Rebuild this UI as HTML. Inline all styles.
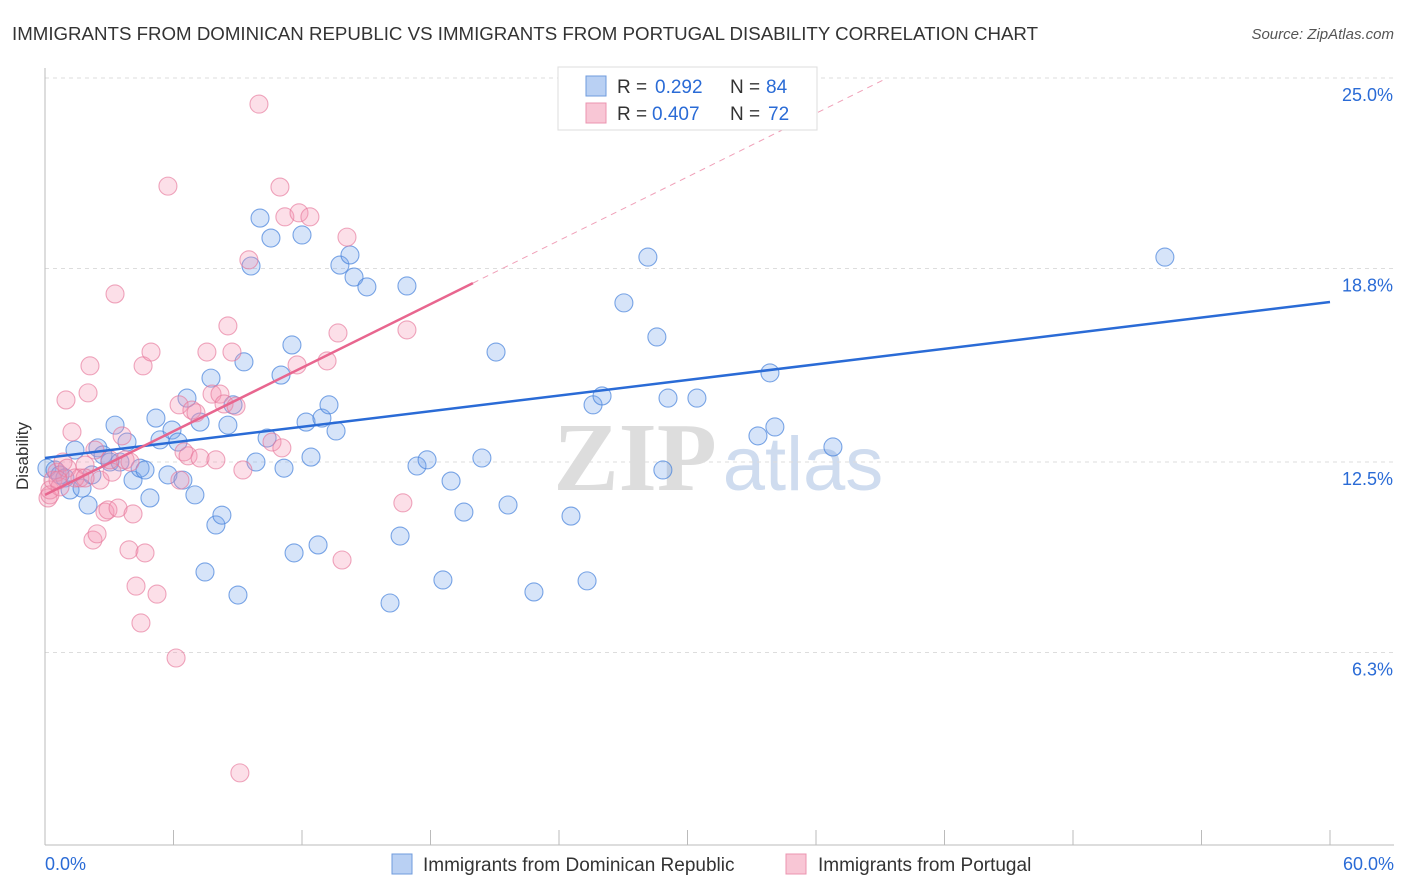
<!DOCTYPE html>
<html><head><meta charset="utf-8"><style>
body{margin:0;background:#fff;font-family:"Liberation Sans",sans-serif}
#c{position:absolute;left:0;top:0}
</style></head><body>
<svg id="c" width="1406" height="892" xmlns="http://www.w3.org/2000/svg">
<text x="12" y="40" font-size="18" textLength="1026" lengthAdjust="spacingAndGlyphs" fill="#333">IMMIGRANTS FROM DOMINICAN REPUBLIC VS IMMIGRANTS FROM PORTUGAL DISABILITY CORRELATION CHART</text>
<text x="1394" y="39" font-size="15" fill="#555" text-anchor="end" font-style="italic">Source: ZipAtlas.com</text>
<g>
<text x="635" y="490" font-size="98" fill="#ddd" text-anchor="middle" font-family="Liberation Serif" font-weight="bold">ZIP</text>
<text x="803" y="490" font-size="76" fill="#cfdcef" text-anchor="middle">atlas</text>
</g>
<g id="grid"></g><g id="axes"></g><g id="pts"></g><g id="trend"></g>
<text x="28" y="456" font-size="17" fill="#333" text-anchor="middle" transform="rotate(-90 28 456)">Disability</text>
<g>
<rect x="558" y="67" width="259" height="63" fill="#fff" stroke="#ddd"/>
<rect x="586" y="76" width="20" height="20" fill="#b9d0f3" stroke="#6f9bdc"/>
<text x="617" y="93" font-size="19" fill="#333">R =</text>
<text x="655" y="93" font-size="19" fill="#2a6bd6">0.292</text>
<text x="730" y="93" font-size="19" fill="#333">N =</text>
<text x="766" y="93" font-size="19" fill="#2a6bd6">84</text>
<rect x="586" y="103" width="20" height="20" fill="#f8c6d5" stroke="#eb94b0"/>
<text x="617" y="120" font-size="19" fill="#333">R =</text>
<text x="652" y="120" font-size="19" fill="#2a6bd6">0.407</text>
<text x="730" y="120" font-size="19" fill="#333">N =</text>
<text x="768" y="120" font-size="19" fill="#2a6bd6">72</text>
</g>
<g>
<rect x="392" y="854" width="20" height="20" fill="#b9d0f3" stroke="#6f9bdc"/>
<text x="423" y="871" font-size="19" fill="#333">Immigrants from Dominican Republic</text>
<rect x="786" y="854" width="20" height="20" fill="#f8c6d5" stroke="#eb94b0"/>
<text x="818" y="871" font-size="19" fill="#333">Immigrants from Portugal</text>
</g>
</svg>
<script>
const yTicks=[25.0,18.8,12.5,6.3];
const yTickLabels=["25.0%","18.8%","12.5%","6.3%"];
const xTickLabels=["0.0%","60.0%"];
const blueX=[0.09,0.47,0.70,0.93,1.17,1.40,1.73,2.01,2.19,2.47,2.71,3.03,3.27,3.50,3.83,4.11,4.44,4.67,4.90,5.18,5.37,5.74,5.93,6.21,6.44,6.63,7.00,7.24,7.47,7.75,7.98,8.26,8.54,8.78,9.01,9.29,9.62,9.85,10.04,10.37,10.55,11.02,11.16,11.53,11.63,12.00,12.19,12.42,12.75,12.93,13.26,13.59,13.77,14.24,14.43,15.03,16.11,16.58,16.90,17.37,17.84,18.58,18.96,19.56,20.40,21.06,21.62,22.83,24.56,25.31,25.59,26.01,27.03,28.15,28.57,28.85,29.09,30.44,33.29,33.85,34.08,35.34,36.79,52.29];
const blueY=[12.30,12.24,12.08,11.98,11.59,12.89,11.65,11.10,12.08,12.96,12.73,12.50,13.70,12.50,13.15,11.91,12.30,12.24,11.33,13.93,13.22,12.08,13.54,13.15,11.91,14.58,11.43,13.80,8.92,15.23,10.45,10.77,13.70,14.36,8.17,15.76,18.88,12.50,20.44,13.28,19.79,15.33,12.30,16.31,9.54,19.89,13.80,12.66,9.80,13.93,14.36,13.51,18.91,19.24,18.52,18.20,7.91,10.09,18.23,12.37,12.57,8.66,11.88,10.87,12.63,16.08,11.10,8.27,10.74,8.63,14.36,14.65,17.68,19.17,16.57,12.24,14.58,14.58,13.35,15.40,13.64,24.19,12.99,19.17];
const pinkX=[0.14,0.23,0.37,0.56,0.70,0.84,1.03,1.26,0.98,1.63,1.87,2.01,2.10,2.24,2.43,2.33,2.57,2.80,2.94,3.13,3.27,3.41,3.60,3.74,3.92,4.11,4.25,4.48,4.58,4.67,4.95,5.23,5.74,6.12,6.26,6.49,6.68,6.86,7.05,7.24,7.56,7.80,7.98,8.17,8.36,8.54,8.73,8.92,9.10,9.24,9.52,9.99,10.60,10.97,11.06,11.20,11.77,11.86,12.37,13.17,13.68,13.87,14.10,16.71,16.90,0.23,0.61,1.40,3.03,3.97,6.30,1.87];
const pinkY=[11.33,11.59,11.91,12.17,11.69,12.50,12.30,13.48,14.52,11.98,12.40,14.75,15.63,9.96,10.16,12.89,11.91,10.87,10.94,12.17,17.97,11.00,13.35,12.57,9.64,10.81,8.46,7.26,15.63,9.54,16.08,8.20,21.48,6.12,14.36,12.83,12.70,14.19,14.10,12.63,16.08,14.71,12.57,14.71,14.39,16.93,16.08,14.32,2.38,12.24,19.08,24.15,13.15,21.45,12.96,20.48,15.66,20.61,20.48,15.79,16.70,9.31,19.82,11.17,16.80,11.43,11.91,11.98,12.57,12.50,11.91,11.98];
const blueTrend=[12.63,17.71];
const pinkTrend=[11.43,0.345];
const NS="http://www.w3.org/2000/svg";
const sx=v=>45+v*(1285/60), sy=v=>846-v*30.72;
function mk(t,a,p){const e=document.createElementNS(NS,t);for(const k in a)e.setAttribute(k,a[k]);p.appendChild(e);return e;}
const grid=document.getElementById('grid'),axes=document.getElementById('axes'),pts=document.getElementById('pts'),tr=document.getElementById('trend');
yTicks.forEach((v,i)=>{
 const l=mk('line',{x1:45,x2:1394,y1:sy(v),y2:sy(v),stroke:'#ddd','stroke-dasharray':'4,4'},grid);
 
 
 const t=mk('text',{x:1393,y:sy(v)+23,'font-size':18,fill:'#2a6bd6','text-anchor':'end'},axes);
 t.textContent=yTickLabels[i];
 
 
});
const ax=mk('line',{x1:45,x2:45,y1:68,y2:845,stroke:'#bbb'},axes);


const bx=mk('line',{x1:45,x2:1394,y1:845,y2:845,stroke:'#bbb'},axes);


for(let i=0;i<=10;i++){const v=i*6;const t=mk('line',{x1:sx(v),x2:sx(v),y1:830,y2:845,stroke:'#bbb'},axes);
 
 }
[[0,'start',45],[60,'end',1394]].forEach((a,i)=>{const t=mk('text',{x:a[2],y:870,'font-size':18,fill:'#2a6bd6','text-anchor':a[1]},axes);t.textContent=xTickLabels[i];
 
 });
function dots(X,Y,fill,stroke,name){X.forEach((x,i)=>{const c=mk('circle',{cx:sx(x),cy:sy(Y[i]),r:9,fill:fill,stroke:stroke,'stroke-width':1.1},pts);
 
 });}
dots(blueX,blueY,'rgba(120,165,235,0.3)','rgba(70,130,220,0.7)','blue-point');
dots(pinkX,pinkY,'rgba(245,150,180,0.3)','rgba(230,120,155,0.65)','pink-point');
const bl=mk('line',{x1:sx(0),y1:sy(blueTrend[0]),x2:sx(60),y2:sy(blueTrend[1]),stroke:'#2a6bd6','stroke-width':2.5},tr);


const pEnd=19.98,pDash=39.1;
const pl=mk('line',{x1:sx(0),y1:sy(pinkTrend[0]),x2:sx(pEnd),y2:sy(pinkTrend[0]+pinkTrend[1]*pEnd),stroke:'#e8668f','stroke-width':2.5},tr);


const pd=mk('line',{x1:sx(pEnd),y1:sy(pinkTrend[0]+pinkTrend[1]*pEnd),x2:sx(pDash),y2:sy(pinkTrend[0]+pinkTrend[1]*pDash),stroke:'#f0a0b8','stroke-width':1,'stroke-dasharray':'6,5'},tr);


</script>
</body></html>
